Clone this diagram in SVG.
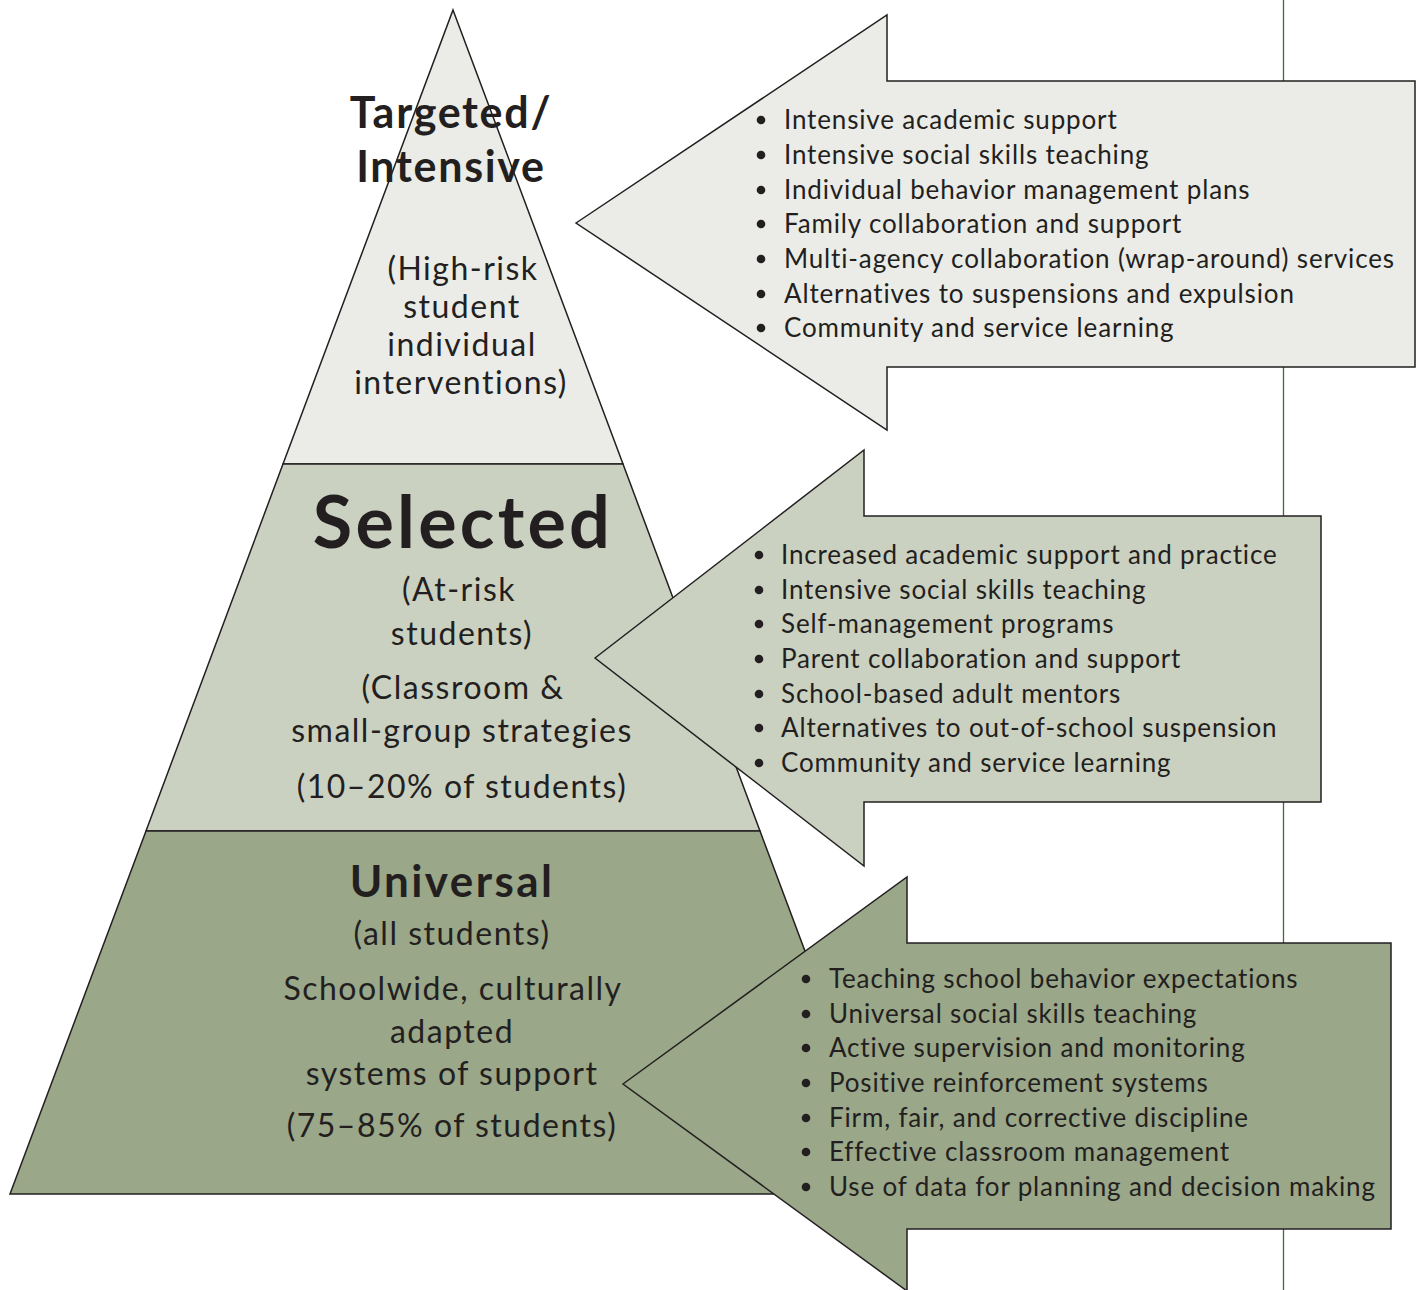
<svg xmlns="http://www.w3.org/2000/svg" width="1421" height="1290" viewBox="0 0 1421 1290">
  <style>
    .edge { stroke: #231f20; stroke-width: 1.5; stroke-linejoin: miter; }
    .tier1 { fill: #ebece7; }
    .tier2 { fill: #cbd1c1; }
    .tier3 { fill: #9aa789; }
    text { font-family: Lato, "Open Sans", "Liberation Sans", sans-serif; fill: #231f20; }
    .head { font-weight: 700; text-anchor: middle; }
    .sub { font-size: 32px; text-anchor: middle; letter-spacing: 1.5px; }
    .item { font-size: 26px; letter-spacing: 0.85px; }
    .dot { fill: #231f20; }
  </style>

  <!-- vertical rule behind the arrows -->
  <g id="rule">
    <line x1="1283.5" y1="0" x2="1283.5" y2="1290" stroke="#4a6640" stroke-width="1.3"/>
  </g>

  <!-- pyramid tiers -->
  <g id="pyramid">
    <g id="tier-targeted">
      <polygon class="tier1 edge" points="453,10 623,464 283,464"/>
      <text class="head" x="451" y="128" font-size="43" letter-spacing="1.7">Targeted/</text>
      <text class="head" x="451" y="182" font-size="43" letter-spacing="1.7">Intensive</text>
      <text class="sub" x="463" y="280">(High-risk</text>
      <text class="sub" x="462" y="318">student</text>
      <text class="sub" x="462" y="356">individual</text>
      <text class="sub" x="461" y="394">interventions)</text>
    </g>
    <g id="tier-selected">
      <polygon class="tier2 edge" points="283,464 623,464 760,831 146,831"/>
      <text class="head" x="463" y="548" font-size="72" letter-spacing="3.2">Selected</text>
      <text class="sub" x="459" y="601">(At-risk</text>
      <text class="sub" x="462" y="645">students)</text>
      <text class="sub" x="463" y="699">(Classroom &amp;</text>
      <text class="sub" x="462" y="742">small-group strategies</text>
      <text class="sub" x="462" y="798">(10–20% of students)</text>
    </g>
    <g id="tier-universal">
      <polygon class="tier3 edge" points="146,831 760,831 896,1194 10,1194"/>
      <text class="head" x="452" y="897" font-size="44" letter-spacing="2.4">Universal</text>
      <text class="sub" x="452" y="945">(all students)</text>
      <text class="sub" x="453" y="1000">Schoolwide, culturally</text>
      <text class="sub" x="452" y="1043">adapted</text>
      <text class="sub" x="452" y="1085">systems of support</text>
      <text class="sub" x="452" y="1137">(75–85% of students)</text>
    </g>
  </g>

  <!-- block arrows pointing back at each tier -->
  <g id="arrows">
    <g id="arrow-targeted">
      <polygon class="tier1 edge" points="576,223 887,15 887,81 1415,81 1415,367 887,367 887,430"/>
      <g class="dot">
        <circle cx="761" cy="120" r="4.3"/>
        <circle cx="761" cy="155" r="4.3"/>
        <circle cx="761" cy="190" r="4.3"/>
        <circle cx="761" cy="224" r="4.3"/>
        <circle cx="761" cy="259" r="4.3"/>
        <circle cx="761" cy="294" r="4.3"/>
        <circle cx="761" cy="328" r="4.3"/>
      </g>
      <text class="item" x="784" y="129">Intensive academic support</text>
      <text class="item" x="784" y="164">Intensive social skills teaching</text>
      <text class="item" x="784" y="199">Individual behavior management plans</text>
      <text class="item" x="784" y="233">Family collaboration and support</text>
      <text class="item" x="784" y="268">Multi-agency collaboration (wrap-around) services</text>
      <text class="item" x="784" y="303">Alternatives to suspensions and expulsion</text>
      <text class="item" x="784" y="337">Community and service learning</text>
    </g>
    <g id="arrow-selected">
      <polygon class="tier2 edge" points="595,658 864,450 864,516 1321,516 1321,802 864,802 864,866"/>
      <g class="dot">
        <circle cx="759" cy="555" r="4.3"/>
        <circle cx="759" cy="590" r="4.3"/>
        <circle cx="759" cy="624" r="4.3"/>
        <circle cx="759" cy="659" r="4.3"/>
        <circle cx="759" cy="694" r="4.3"/>
        <circle cx="759" cy="728" r="4.3"/>
        <circle cx="759" cy="763" r="4.3"/>
      </g>
      <text class="item" x="781" y="564">Increased academic support and practice</text>
      <text class="item" x="781" y="599">Intensive social skills teaching</text>
      <text class="item" x="781" y="633">Self-management programs</text>
      <text class="item" x="781" y="668">Parent collaboration and support</text>
      <text class="item" x="781" y="703">School-based adult mentors</text>
      <text class="item" x="781" y="737">Alternatives to out-of-school suspension</text>
      <text class="item" x="781" y="772">Community and service learning</text>
    </g>
    <g id="arrow-universal">
      <polygon class="tier3 edge" points="623,1084 907,877 907,943 1391,943 1391,1229 907,1229 907,1291"/>
      <g class="dot">
        <circle cx="806" cy="979" r="4.3"/>
        <circle cx="806" cy="1014" r="4.3"/>
        <circle cx="806" cy="1048" r="4.3"/>
        <circle cx="806" cy="1083" r="4.3"/>
        <circle cx="806" cy="1118" r="4.3"/>
        <circle cx="806" cy="1152" r="4.3"/>
        <circle cx="806" cy="1187" r="4.3"/>
      </g>
      <text class="item" x="829" y="988">Teaching school behavior expectations</text>
      <text class="item" x="829" y="1023">Universal social skills teaching</text>
      <text class="item" x="829" y="1057">Active supervision and monitoring</text>
      <text class="item" x="829" y="1092">Positive reinforcement systems</text>
      <text class="item" x="829" y="1127">Firm, fair, and corrective discipline</text>
      <text class="item" x="829" y="1161">Effective classroom management</text>
      <text class="item" x="829" y="1196">Use of data for planning and decision making</text>
    </g>
  </g>
</svg>
